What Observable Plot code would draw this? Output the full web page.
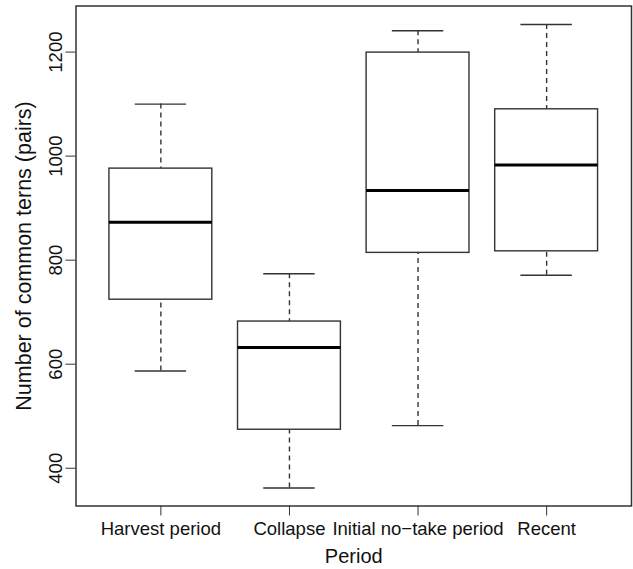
<!DOCTYPE html>
<html><head><meta charset="utf-8">
<script src="https://cdn.jsdelivr.net/npm/d3@7"></script>
<script src="https://cdn.jsdelivr.net/npm/@observablehq/plot@0.6"></script>
<style>body{margin:0;background:#fff} svg{display:block}</style>
</head><body><div id="chart"></div>
<script>
const periods = ["Harvest period", "Collapse", "Initial no\u2212take period", "Recent"];
const lowerWhisker = [587, 362, 482, 771];
const q1 = [724, 474, 814, 817];
const median = [873, 632, 934, 983];
const q3 = [976, 682, 1199, 1090];
const upperWhisker = [1100, 774, 1241, 1253];
const yTicks = [400, 600, 800, 1000, 1200];
const xTitle = "Period";
const yTitle = "Number of common terns (pairs)";

const data = periods.map((p, i) => ({
  pos: i + 1, period: p,
  lo: lowerWhisker[i], q1: q1[i], med: median[i], q3: q3[i], hi: upperWhisker[i]
}));

const ink = "#333";
const font = "'Liberation Sans', Arial, Helvetica, sans-serif";
const fs = 18.5;

const plot = Plot.plot({
  width: 633, height: 569,
  marginLeft: 75.5, marginRight: 2, marginTop: 5.5, marginBottom: 63.5,
  style: {fontFamily: font, background: "white", color: "#111"},
  x: {domain: [0.34, 4.66], axis: null},
  y: {domain: [327.4, 1288.6], axis: null},
  marks: [
    Plot.ruleX(data, {x: "pos", y1: "lo", y2: "q1", stroke: ink, strokeWidth: 1.4, strokeDasharray: "5,4"}),
    Plot.ruleX(data, {x: "pos", y1: "hi", y2: "q3", stroke: ink, strokeWidth: 1.4, strokeDasharray: "5,4"}),
    Plot.ruleY(data, {y: "lo", x1: d => d.pos - 0.2, x2: d => d.pos + 0.2, stroke: ink, strokeWidth: 1.4}),
    Plot.ruleY(data, {y: "hi", x1: d => d.pos - 0.2, x2: d => d.pos + 0.2, stroke: ink, strokeWidth: 1.4}),
    Plot.rect(data, {x1: d => d.pos - 0.4, x2: d => d.pos + 0.4, y1: "q1", y2: "q3", fill: "white", stroke: ink, strokeWidth: 1.4}),
    Plot.ruleY(data, {y: "med", x1: d => d.pos - 0.4, x2: d => d.pos + 0.4, stroke: "#000", strokeWidth: 3}),
    Plot.axisX({ticks: data.map(d => d.pos), tickFormat: i => periods[i - 1], tickSize: 10, tickPadding: 6, fontSize: fs, stroke: ink, fill: "#111", label: null}),
    Plot.axisY({ticks: yTicks, tickSize: 10, tickFormat: () => "", stroke: ink, label: null}),
    Plot.text(yTicks, {y: d => d, text: d => String(d), frameAnchor: "left", dx: -14.5, rotate: -90, lineAnchor: "bottom", textAnchor: "middle", fontSize: fs, fill: "#111"}),
    Plot.text([yTitle], {frameAnchor: "left", dx: -45, rotate: -90, lineAnchor: "bottom", textAnchor: "middle", fontSize: 21.5, fill: "#111"}),
    Plot.text([xTitle], {frameAnchor: "bottom", dy: 56.5, lineAnchor: "bottom", textAnchor: "middle", fontSize: 20, fill: "#111"}),
    Plot.frame({stroke: ink, strokeWidth: 1.5})
  ]
});
document.getElementById("chart").appendChild(plot);
</script>
</body></html>
